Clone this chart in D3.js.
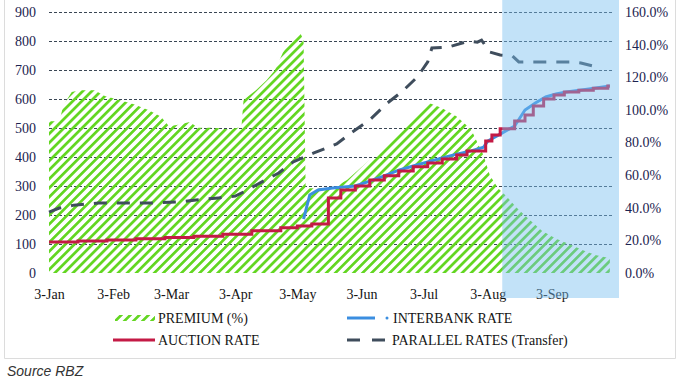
<!DOCTYPE html>
<html>
<head>
<meta charset="utf-8">
<script src="https://cdn.jsdelivr.net/npm/d3@7"></script>
<style>
  body { margin: 0; background: #fff; }
  svg { display: block; }
</style>
</head>
<body>
<div id="container"></div>
<script>
// premium (%), right axis
var premiumDates = ["2022-01-03","2022-01-08","2022-01-10","2022-01-14","2022-01-18","2022-01-25","2022-01-30",
  "2022-02-06","2022-02-13","2022-02-20","2022-02-26","2022-03-02","2022-03-07","2022-03-12","2022-03-16",
  "2022-03-24","2022-03-31","2022-04-06","2022-04-07","2022-04-13","2022-04-18","2022-04-22","2022-04-26",
  "2022-04-30","2022-05-04","2022-05-06","2022-05-07","2022-05-20","2022-05-27","2022-06-04","2022-06-20",
  "2022-07-06","2022-07-12","2022-07-19","2022-07-26","2022-08-01","2022-08-04","2022-08-08","2022-08-12",
  "2022-08-17","2022-08-22","2022-08-29","2022-09-05","2022-09-11","2022-09-18","2022-09-24","2022-10-01"]
var premiumValues = [93,93,103,111,112,112,108.5,106,103.5,100,96,90,91,92.5,89,89,88,89.5,106,112,118,124,135,
  143,148,143,52,52,57,66,84,104,101,96,88,72,60,52,47,40,34,26,21,18,14,11,9]

// auction rate, left axis (stepped)
var auctionDates = ["2022-01-03","2022-01-17","2022-01-31","2022-02-14","2022-02-28","2022-03-14","2022-03-28",
  "2022-04-11","2022-04-25","2022-05-03","2022-05-10","2022-05-18","2022-05-24","2022-05-31","2022-06-07",
  "2022-06-14","2022-06-21","2022-06-28","2022-07-05","2022-07-12","2022-07-19","2022-07-24","2022-08-02",
  "2022-08-05","2022-08-09","2022-08-16","2022-08-21","2022-08-25","2022-08-30","2022-09-04","2022-09-09",
  "2022-09-16","2022-09-23","2022-09-30","2022-10-01"]
var auctionValues = [107,110,114,118,122,127,134,146,156,162,169,259,286,300,321,335,352,366,379,393,407,421,
  455,476,497,524,545,576,600,614,624,630,637,645,645]

// interbank rate, left axis
var interbankDates = ["2022-05-06","2022-05-09","2022-05-13","2022-05-20","2022-05-31","2022-06-07","2022-06-14",
  "2022-06-21","2022-06-28","2022-07-05","2022-07-12","2022-07-19","2022-07-26","2022-08-01","2022-08-03",
  "2022-08-09","2022-08-16","2022-08-21","2022-08-26","2022-08-31","2022-09-05","2022-09-10","2022-09-20","2022-10-01"]
var interbankValues = [186,269,286,293,300,317,335,355,369,383,397,410,421,434,455,479,507,562,586,607,617,624,634,645]

// parallel rates (transfer), left axis
var parallelDates = ["2022-01-03","2022-01-08","2022-01-15","2022-01-27","2022-02-20","2022-03-07","2022-03-15",
  "2022-03-26","2022-04-03","2022-04-08","2022-04-14","2022-04-24","2022-05-01","2022-05-11","2022-05-22",
  "2022-05-29","2022-06-07","2022-06-15","2022-06-23","2022-06-30","2022-07-05","2022-07-07","2022-07-15",
  "2022-07-25","2022-07-29","2022-07-31","2022-08-04","2022-08-09","2022-08-15","2022-08-18","2022-09-12",
  "2022-09-17","2022-09-25"]
var parallelValues = [210,224,234,241,241,245,252,259,265,283,307,345,383,414,445,483,528,583,628,676,728,776,
  779,800,796,803,762,752,748,728,728,724,710]

var monthTicks = ["2022-01-03","2022-02-03","2022-03-03","2022-04-03","2022-05-03","2022-06-03","2022-07-03",
  "2022-08-03","2022-09-03"]
var leftTicks = [0,100,200,300,400,500,600,700,800,900]
var rightTicks = [0,20,40,60,80,100,120,140,160]
var highlightStart = "2022-08-10"

var width = 680
var height = 380
var parse = d3.timeParse("%Y-%m-%d")

function zip(dates, values) {
  return dates.map(function(d, i) { return { date: parse(d), value: values[i] } })
}

var premium = zip(premiumDates, premiumValues)
var auction = zip(auctionDates, auctionValues)
var interbank = zip(interbankDates, interbankValues)
var parallel = zip(parallelDates, parallelValues)

var svg = d3.select("#container")
  .append("svg")
  .attr("width", width)
  .attr("height", height)

var x = d3.scaleTime()
  .domain([parse("2022-01-03"), parse("2022-10-03")])
  .range([49, 614])
var yLeft = d3.scaleLinear().domain([0, 900]).range([273, 12])
var yRight = d3.scaleLinear().domain([0, 160]).range([273, 12])

// hatch for the premium area
svg.append("defs")
  .append("pattern")
  .attr("id", "hatch")
  .attr("patternUnits", "userSpaceOnUse")
  .attr("width", 6.4)
  .attr("height", 6.4)
  .attr("patternTransform", "rotate(45)")
  .append("rect")
  .attr("width", 2.7)
  .attr("height", 6.4)
  .attr("fill", "#62d620")

// chart frame
svg.append("path")
  .attr("d", "M4.5,0 V358.5 H675.5 V0")
  .attr("fill", "none")
  .attr("stroke", "#dcdcdc")

// gridlines
svg.append("g")
  .selectAll("line")
  .data(leftTicks.filter(function(t) { return t > 0 }))
  .enter()
  .append("line")
  .attr("x1", x.range()[0])
  .attr("x2", x.range()[1])
  .attr("y1", function(d) { return Math.round(yLeft(d)) + 0.5 })
  .attr("y2", function(d) { return Math.round(yLeft(d)) + 0.5 })
  .attr("stroke", "#3a4654")
  .attr("stroke-dasharray", "3,2")

// premium area
svg.append("path")
  .datum(premium)
  .attr("fill", "url(#hatch)")
  .attr("d", d3.area()
    .x(function(d) { return x(d.date) })
    .y0(yRight(0))
    .y1(function(d) { return yRight(d.value) }))

// parallel rates
svg.append("path")
  .datum(parallel)
  .attr("fill", "none")
  .attr("stroke", "#3f4d5c")
  .attr("stroke-width", 3)
  .attr("stroke-dasharray", "13,10")
  .attr("d", d3.line()
    .x(function(d) { return x(d.date) })
    .y(function(d) { return yLeft(d.value) }))

// interbank
svg.append("path")
  .datum(interbank)
  .attr("fill", "none")
  .attr("stroke", "#3b8ee0")
  .attr("stroke-width", 3)
  .attr("d", d3.line()
    .x(function(d) { return x(d.date) })
    .y(function(d) { return yLeft(d.value) }))

// auction
svg.append("path")
  .datum(auction)
  .attr("fill", "none")
  .attr("stroke", "#c41a45")
  .attr("stroke-width", 3)
  .attr("d", d3.line()
    .curve(d3.curveStepAfter)
    .x(function(d) { return x(d.date) })
    .y(function(d) { return yLeft(d.value) }))

// axes
var serif = "'Liberation Serif', 'Times New Roman', serif"

var gx = svg.append("g")
  .attr("transform", "translate(0,273)")
  .call(d3.axisBottom(x)
    .tickValues(monthTicks.map(parse))
    .tickFormat(d3.timeFormat("%-d-%b"))
    .tickSize(0)
    .tickPadding(16))
gx.select(".domain").remove()

var gl = svg.append("g")
  .attr("transform", "translate(36,0)")
  .call(d3.axisLeft(yLeft).tickValues(leftTicks).tickSize(0).tickPadding(0))
gl.select(".domain").remove()

var gr = svg.append("g")
  .attr("transform", "translate(625,0)")
  .call(d3.axisRight(yRight)
    .tickValues(rightTicks)
    .tickFormat(function(d) { return d.toFixed(1) + "%" })
    .tickSize(0)
    .tickPadding(0))
gr.select(".domain").remove()

svg.selectAll(".tick text")
  .style("font-family", serif)
  .style("font-size", "14px")
  .attr("fill", "#1c2350")
gx.selectAll(".tick text").attr("fill", "#151515")

// highlighted period drawn over the chart
svg.append("rect")
  .attr("x", x(parse(highlightStart)))
  .attr("y", 0)
  .attr("width", x.range()[1] + 5 - x(parse(highlightStart)))
  .attr("height", 298)
  .attr("fill", "rgb(120,190,240)")
  .attr("opacity", 0.45)

// legend
var legend = svg.append("g")
  .style("font-family", serif)
  .style("font-size", "14px")
  .attr("fill", "#151515")

legend.append("rect")
  .attr("x", 115).attr("y", 315)
  .attr("width", 40).attr("height", 6)
  .attr("fill", "url(#hatch)")
legend.append("text").attr("x", 158).attr("y", 323).text("PREMIUM (%)")

legend.append("line")
  .attr("x1", 347).attr("x2", 375).attr("y1", 318).attr("y2", 318)
  .attr("stroke", "#3b8ee0").attr("stroke-width", 3)
legend.append("circle")
  .attr("cx", 387).attr("cy", 318).attr("r", 1.5)
  .attr("fill", "#3b8ee0")
legend.append("text").attr("x", 393).attr("y", 323).text("INTERBANK RATE")

legend.append("line")
  .attr("x1", 113).attr("x2", 155).attr("y1", 340).attr("y2", 340)
  .attr("stroke", "#c41a45").attr("stroke-width", 3)
legend.append("text").attr("x", 158).attr("y", 345).text("AUCTION RATE")

legend.append("line")
  .attr("x1", 347).attr("x2", 385).attr("y1", 340).attr("y2", 340)
  .attr("stroke", "#3f4d5c").attr("stroke-width", 3)
  .attr("stroke-dasharray", "13,12")
legend.append("text").attr("x", 392).attr("y", 345).text("PARALLEL RATES (Transfer)")

svg.append("text")
  .attr("x", 7)
  .attr("y", 376)
  .style("font-family", "'Liberation Sans', Arial, sans-serif")
  .style("font-size", "14px")
  .style("font-style", "italic")
  .attr("fill", "#333")
  .text("Source RBZ")
</script>
</body>
</html>
